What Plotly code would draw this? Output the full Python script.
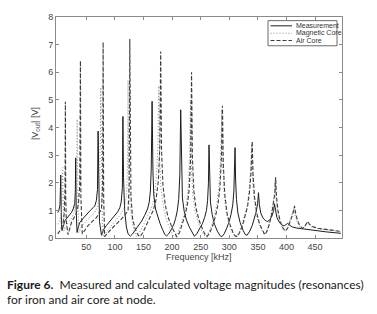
import plotly.graph_objects as go

# ---------------- data ----------------
meas_f = [0, 2, 4, 5.3, 6.5, 7.6, 10, 12.3, 16, 20, 24, 27, 29.8, 30.8, 31.5, 32.3, 33.8, 36, 38.5, 44, 50, 57, 62,
          64.8, 67.5, 69.5, 70.6, 71.5, 73, 76.5, 80, 85, 92, 100, 105, 108.6, 111, 113, 114, 115, 117, 120, 123,
          127, 131, 136, 141, 147, 152, 157, 160, 162, 163.5, 165, 166.5, 168, 171, 175, 179, 183, 187, 190, 194,
          199, 203, 206, 209, 211.5, 213.5, 215, 216.5, 218, 221, 225, 230, 235, 239, 243, 248, 253, 257, 260, 262,
          263.5, 264.5, 265.5, 267, 270, 274, 279, 284, 287, 291, 295, 299, 303, 306, 308, 309.2, 310, 311, 312.5,
          315, 319, 324, 328, 331, 335, 340, 344, 347, 349.5, 351, 352.5, 355, 359, 363, 367, 371, 375, 377.5, 379,
          380.5, 383, 387, 392, 396, 399, 402, 405, 410, 418, 428, 440, 455, 470, 485, 495]
meas_v = [0.92, 1.0, 1.2, 2.28, 0.5, 0.27, 0.45, 0.62, 0.72, 0.82, 0.92, 1.05, 1.25, 1.7, 2.9, 1.0, 0.2, 0.4, 0.56,
          0.7, 0.85, 1.0, 1.1, 1.16, 1.35, 1.75, 3.87, 1.5, 0.6, 0.1, 0.3, 0.45, 0.62, 0.8, 0.95, 1.1, 1.3, 1.8,
          4.4, 2.2, 1.0, 0.4, 0.15, 0.07, 0.15, 0.3, 0.45, 0.62, 0.82, 1.05, 1.3, 1.7, 2.5, 4.95, 2.4, 1.55, 1.05,
          0.75, 0.52, 0.32, 0.14, 0.07, 0.15, 0.32, 0.5, 0.7, 0.98, 1.4, 2.3, 4.64, 2.2, 1.45, 0.98, 0.65, 0.4,
          0.18, 0.06, 0.15, 0.32, 0.52, 0.75, 1.0, 1.35, 2.0, 3.37, 1.9, 1.3, 0.85, 0.5, 0.25, 0.08, 0.05, 0.15,
          0.33, 0.55, 0.85, 1.2, 1.7, 2.4, 3.27, 2.1, 1.4, 0.9, 0.55, 0.28, 0.12, 0.1, 0.22, 0.45, 0.7, 0.95, 1.25,
          1.64, 1.2, 0.9, 0.72, 0.63, 0.6, 0.66, 0.82, 1.0, 1.24, 1.0, 0.75, 0.58, 0.47, 0.44, 0.48, 0.53, 0.47,
          0.4, 0.36, 0.33, 0.29, 0.25, 0.22, 0.19, 0.17]

mag_f = [0, 3, 6, 7.6, 8.6, 9.4, 11, 15, 20, 25, 29, 31.5, 33, 34, 35, 37, 42, 50, 60, 67, 71, 73.5, 75.3, 76.5, 78,
         80, 88, 100, 110, 117, 120.5, 122, 123, 124, 126, 130, 134, 138, 143, 150, 157, 164, 169, 172.5, 175,
         176.5, 178, 180.5, 185, 190, 196, 201, 205, 210, 216, 221, 225, 228, 230.5, 232, 233.5, 236, 240, 245,
         250, 255, 259, 264, 269, 274, 278, 281.5, 284.5, 287, 288.5, 291, 295, 300, 305, 309, 313, 317, 322, 327,
         331, 334.5, 337, 339, 340.5, 343, 347, 352, 357, 361, 365, 369, 373, 376, 378.5, 380, 381.5, 384, 388,
         393, 397, 401, 405, 408, 411, 413, 415, 418, 422, 427, 431, 434, 436, 439, 444, 455, 470, 485, 495]
mag_v = [0.5, 0.6, 0.85, 1.3, 2.55, 0.9, 0.25, 0.45, 0.6, 0.75, 0.95, 1.3, 2.1, 4.3, 1.5, 0.2, 0.42, 0.62, 0.82,
         1.0, 1.25, 1.9, 5.45, 1.8, 0.4, 0.05, 0.3, 0.6, 0.85, 1.1, 1.6, 2.6, 5.7, 2.5, 1.3, 0.6, 0.25, 0.06, 0.2,
         0.48, 0.78, 1.1, 1.5, 2.2, 3.3, 5.5, 3.0, 1.8, 1.1, 0.65, 0.35, 0.12, 0.05, 0.2, 0.5, 0.85, 1.25, 1.8,
         2.9, 5.0, 2.7, 1.6, 1.0, 0.6, 0.33, 0.12, 0.05, 0.2, 0.45, 0.8, 1.2, 1.8, 2.8, 4.65, 2.6, 1.55, 0.85,
         0.45, 0.2, 0.07, 0.06, 0.2, 0.45, 0.8, 1.15, 1.7, 2.4, 3.4, 2.2, 1.45, 0.85, 0.48, 0.25, 0.12, 0.25, 0.5,
         0.85, 1.2, 1.55, 2.1, 1.45, 0.95, 0.58, 0.33, 0.25, 0.35, 0.55, 0.75, 0.95, 1.1, 0.85, 0.62, 0.43, 0.34,
         0.4, 0.52, 0.57, 0.48, 0.4, 0.34, 0.29, 0.25, 0.23]

air_f = [0, 5, 9, 11.5, 12.8, 13.4, 14, 15, 18, 24, 32.6, 36, 38.5, 39.7, 40.5, 43, 53, 67.7, 76.5, 78.5, 79.4, 80.3,
         82, 94, 111.5, 123, 125, 126, 127, 128, 131, 135, 140, 144, 149, 155, 161, 167, 172, 176, 178.5, 180,
         181.5, 184, 188, 193, 199, 204, 208, 213, 218, 223, 227, 230, 232.5, 234, 235.5, 238, 242, 247, 252, 257,
         261, 266, 271, 276, 280, 283.5, 286, 288, 289.5, 292, 296, 301, 306, 310, 314, 318, 323, 328, 332, 335.5,
         338, 340, 341.5, 344, 348, 353, 358, 362, 366, 370, 374, 377, 379.5, 381, 382.5, 385, 389, 394, 398, 402,
         406, 409, 412, 414, 416, 419, 423, 428, 432, 435, 437, 440, 445, 455, 470, 485, 495]
air_v = [0.15, 0.3, 0.5, 0.9, 1.8, 4.93, 1.5, 0.6, 0.12, 0.56, 0.9, 1.2, 1.9, 6.42, 1.5, 0.15, 0.45, 0.74, 1.04,
         1.9, 7.09, 1.5, 0.05, 0.33, 0.69, 0.98, 2.0, 7.2, 2.0, 1.5, 0.7, 0.35, 0.12, 0.05, 0.2, 0.45, 0.7, 1.0,
         1.4, 2.1, 3.3, 6.75, 3.2, 1.9, 1.2, 0.75, 0.42, 0.2, 0.05, 0.2, 0.5, 0.85, 1.25, 1.8, 3.0, 6.0, 2.9, 1.7,
         1.05, 0.65, 0.38, 0.15, 0.05, 0.2, 0.45, 0.8, 1.2, 1.8, 2.8, 4.79, 2.7, 1.6, 0.9, 0.5, 0.22, 0.08, 0.05,
         0.2, 0.45, 0.8, 1.15, 1.7, 2.4, 3.5, 2.3, 1.5, 0.9, 0.5, 0.25, 0.12, 0.25, 0.5, 0.85, 1.2, 1.6, 2.2, 1.5,
         1.0, 0.6, 0.35, 0.25, 0.35, 0.55, 0.75, 0.95, 1.16, 0.9, 0.65, 0.45, 0.35, 0.42, 0.55, 0.6, 0.5, 0.42,
         0.35, 0.3, 0.26, 0.24]

x_ticks = [50, 100, 150, 200, 250, 300, 350, 400, 450]
y_ticks = [0, 1, 2, 3, 4, 5, 6, 7, 8]
series_names = ["Measurement", "Magnetic Core", "Air Core"]

# ---------------- styles ----------------
C_MEAS = "#1c1c1c"
C_MAG = "#8c8c8c"
C_AIR = "#3c3c3c"
DASH_MAG = "1px,2px"
DASH_AIR = "4px,2px"
SANS = "Liberation Sans, Arial, sans-serif"
TICKFONT = dict(family=SANS, size=9, color="#454545")

fig = go.Figure()
fig.add_trace(go.Scatter(x=meas_f, y=meas_v, mode="lines", name=series_names[0],
                         line=dict(color=C_MEAS, width=1)))
fig.add_trace(go.Scatter(x=mag_f, y=mag_v, mode="lines", name=series_names[1],
                         line=dict(color=C_MAG, width=1, dash=DASH_MAG)))
fig.add_trace(go.Scatter(x=air_f, y=air_v, mode="lines", name=series_names[2],
                         line=dict(color=C_AIR, width=1.1, dash=DASH_AIR)))

# plot area in pixels: x 56..342, y 13..238
L, R, T, B = 56, 342, 13, 238
W, H = 377, 314
def px(x):
    return (x - L) / (R - L)
def py(y):
    return (B - y) / (B - T)

axis_common = dict(showgrid=False, zeroline=False, showline=True, linecolor="#8a8a8a", linewidth=1,
                   mirror="ticks", ticks="inside", ticklen=3, tickcolor="#8a8a8a", tickfont=TICKFONT)
fig.update_xaxes(range=[-3, 497], tickvals=x_ticks, ticktext=[str(v) for v in x_ticks], **axis_common)
fig.update_yaxes(range=[0, 8], tickvals=y_ticks, ticktext=[str(v) for v in y_ticks], **axis_common)

shapes = []
annotations = []
# custom legend
shapes.append(dict(type="rect", xref="paper", yref="paper", x0=px(268), x1=px(337), y0=py(42.3), y1=py(16.7),
                   line=dict(color="#6a6a6a", width=1), fillcolor="white", layer="above"))
leg_rows = [22.0, 29.5, 37.0]
leg_styles = [(C_MEAS, "solid", 1), (C_MAG, DASH_MAG, 1), (C_AIR, DASH_AIR, 1.1)]
for name, yy, (c, d, w) in zip(series_names, leg_rows, leg_styles):
    shapes.append(dict(type="line", xref="paper", yref="paper", x0=px(270.5), x1=px(292), y0=py(yy), y1=py(yy),
                       line=dict(color=c, width=w, dash=d), layer="above"))
    annotations.append(dict(text=name, xref="paper", yref="paper", x=px(293.5), y=py(yy), xanchor="left",
                            yanchor="middle", showarrow=False,
                            font=dict(family=SANS, size=7, color="#333333")))

# axis titles
annotations.append(dict(text="Frequency [kHz]", xref="paper", yref="paper", x=px(199), y=py(257.5),
                        xanchor="center", yanchor="middle", showarrow=False,
                        font=dict(family=SANS, size=9, color="#454545")))
annotations.append(dict(text="|V<sub>out</sub>| [V]", xref="paper", yref="paper", x=px(35), y=py(122),
                        xanchor="center", yanchor="middle", textangle=-90, showarrow=False,
                        font=dict(family=SANS, size=9, color="#454545")))
# caption (two lines)
CAP = dict(family="Lato, Noto Sans, sans-serif", size=12, color="#1a1a1a")
annotations.append(dict(text="<b>Figure 6.</b>  Measured and calculated voltage magnitudes (resonances)",
                        xref="paper", yref="paper", x=px(5), y=py(285.3), xanchor="left", yanchor="middle",
                        showarrow=False, font=CAP))
annotations.append(dict(text="for iron and air core at node.",
                        xref="paper", yref="paper", x=px(5), y=py(300.6), xanchor="left", yanchor="middle",
                        showarrow=False, font=CAP))

fig.update_layout(width=W, height=H, margin=dict(l=L, r=W - R, t=T, b=H - B, pad=0),
                  paper_bgcolor="white", plot_bgcolor="white", showlegend=False,
                  shapes=shapes, annotations=annotations)

fig.write_html("out.html", config={"displayModeBar": False},
               post_script="document.body.style.margin='0';")
